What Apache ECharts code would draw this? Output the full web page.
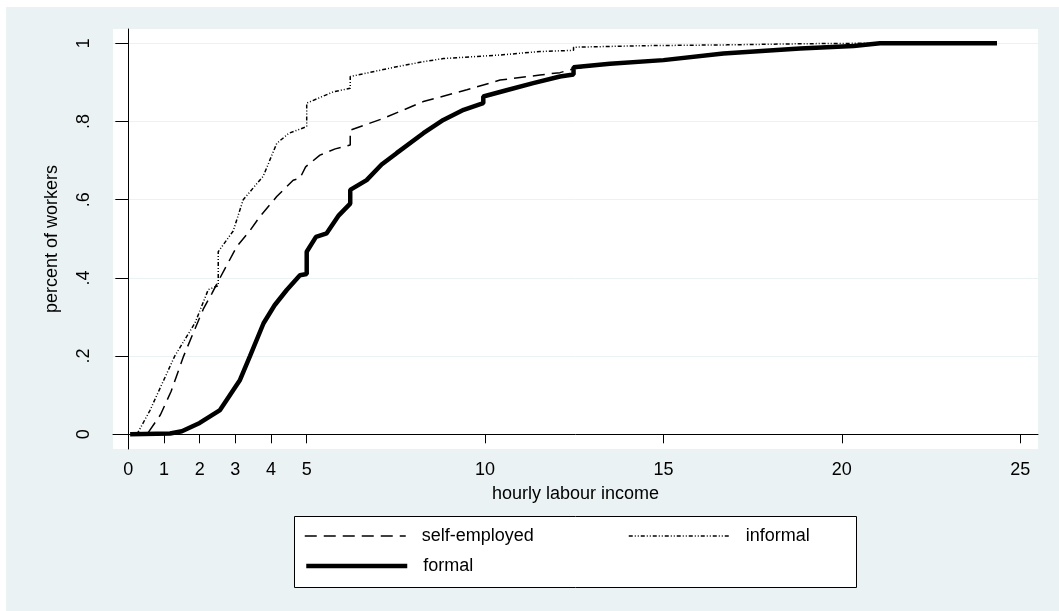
<!DOCTYPE html>
<html>
<head>
<meta charset="utf-8">
<script src="https://cdn.jsdelivr.net/npm/echarts@6/dist/echarts.min.js"></script>
<style>
  html, body { margin: 0; padding: 0; background: #fff; }
  #main { width: 1059px; height: 611px; }
</style>
</head>
<body>
<div id="main"></div>
<script>
var selfX = [0.56, 0.9, 1.2, 1.55, 1.87, 2.1, 2.34, 2.57, 3.04, 3.4, 3.69, 4.16, 4.62, 4.81, 4.97, 5.37, 5.8, 6.22, 6.22, 7.15, 8.27, 9.49, 10.42, 11.54, 12.1, 12.48, 13.5, 15.0, 16.68, 18.83, 20.33, 21.0, 21.5];
var selfY = [0.005, 0.05, 0.11, 0.2, 0.27, 0.32, 0.36, 0.40, 0.48, 0.52, 0.557, 0.608, 0.65, 0.655, 0.684, 0.714, 0.73, 0.74, 0.778, 0.808, 0.851, 0.881, 0.906, 0.919, 0.925, 0.935, 0.948, 0.958, 0.975, 0.988, 0.995, 1, 1];

var informalX = [0.24, 0.6, 1.0, 1.3, 1.87, 2.24, 2.52, 2.52, 2.94, 3.22, 3.5, 3.78, 4.16, 4.5, 5.0, 5.0, 5.75, 6.22, 6.22, 7.52, 8.27, 8.83, 10.42, 11.54, 12.48, 12.48, 14.5, 16.78, 19.0, 20.5, 21.0];
var informalY = [0, 0.06, 0.14, 0.2, 0.285, 0.37, 0.38, 0.467, 0.52, 0.6, 0.63, 0.66, 0.744, 0.77, 0.787, 0.847, 0.876, 0.885, 0.915, 0.94, 0.953, 0.961, 0.97, 0.979, 0.982, 0.99, 0.994, 0.996, 0.999, 1, 1];

var formalX = [0.05, 1.17, 1.5, 2.0, 2.57, 3.13, 3.41, 3.79, 4.1, 4.44, 4.81, 5.0, 5.0, 5.26, 5.56, 5.9, 6.22, 6.22, 6.68, 7.1, 7.52, 8.27, 8.83, 9.4, 9.95, 9.95, 10.6, 11.35, 12.1, 12.48, 12.48, 13.5, 15.0, 16.68, 18.83, 20.33, 21.07, 24.35];
var formalY = [0, 0.002, 0.008, 0.029, 0.062, 0.139, 0.2, 0.284, 0.33, 0.369, 0.407, 0.41, 0.467, 0.505, 0.514, 0.56, 0.59, 0.625, 0.65, 0.69, 0.719, 0.77, 0.804, 0.83, 0.847, 0.864, 0.88, 0.898, 0.915, 0.92, 0.939, 0.948, 0.957, 0.974, 0.987, 0.993, 1, 1];

var xTickValues = [0, 1, 2, 3, 4, 5, 10, 15, 20, 25];
var yTickValues = [0, 0.2, 0.4, 0.6, 0.8, 1];
var yTickLabels = ['0', '.2', '.4', '.6', '.8', '1'];

function pairs(xs, ys) {
    var out = [];
    for (var i = 0; i < xs.length; i++) out.push([xs[i], ys[i]]);
    return out;
}

var font = 'Liberation Sans, Arial, sans-serif';
var myChart = echarts.init(document.getElementById('main'));

var selfStyle = {color: '#000', width: 1.5, type: [12, 7]};
var infStyle = {color: '#000', width: 1.5, type: [4, 2, 1, 2, 1, 2]};
var formalStyle = {color: '#000', width: 4.5, type: 'solid'};

function oneLegend(name, left, top, ls) {
    return {
        data: [name],
        left: left,
        top: top,
        orient: 'horizontal',
        padding: 0,
        itemWidth: 101,
        itemHeight: 14,
        selectedMode: false,
        itemStyle: {opacity: 0, borderWidth: 0},
        lineStyle: ls,
        textStyle: {color: '#000', fontSize: 18, fontFamily: font, lineHeight: 20, padding: [0, 0, 0, 11]}
    };
}

option = {
    backgroundColor: '#fff',
    animation: false,
    graphic: [
        {type: 'rect', left: 6, top: 7, z: -10, shape: {width: 1053, height: 604}, style: {fill: '#EAF2F3'}},
        {type: 'rect', left: 294, top: 516, z: 1, shape: {width: 562, height: 71}, style: {fill: '#fff', stroke: '#000', lineWidth: 1}}
    ],
    legend: [
        oneLegend('self-employed', 304, 526, selfStyle),
        oneLegend('informal', 628, 526, infStyle),
        oneLegend('formal', 304, 556, formalStyle)
    ],
    grid: {
        left: 113,
        top: 29,
        width: 925,
        height: 420,
        show: true,
        backgroundColor: '#fff',
        borderWidth: 0
    },
    xAxis: {
        type: 'value',
        min: -0.43,
        max: 25.5,
        axisLine: {show: true, lineStyle: {color: '#000', width: 1}},
        axisTick: {show: true, length: 9, customValues: xTickValues, lineStyle: {color: '#000'}},
        axisLabel: {customValues: xTickValues, color: '#000', fontSize: 18, fontFamily: font, margin: 12},
        splitLine: {show: false},
        name: 'hourly labour income',
        nameLocation: 'middle',
        nameGap: 36,
        nameTextStyle: {color: '#000', fontSize: 18, fontFamily: font}
    },
    yAxis: {
        type: 'value',
        min: -0.0376,
        max: 1.0366,
        axisLine: {show: true, lineStyle: {color: '#000', width: 1}},
        axisTick: {show: true, length: 13, customValues: yTickValues, lineStyle: {color: '#000'}},
        axisLabel: {
            customValues: yTickValues,
            rotate: 90,
            color: '#000',
            fontSize: 18,
            fontFamily: font,
            margin: 20,
            formatter: function (v) {
                var i = yTickValues.indexOf(v);
                return i >= 0 ? yTickLabels[i] : '';
            }
        },
        splitLine: {show: true, lineStyle: {color: '#EAF2F3', width: 1}},
        name: 'percent of workers',
        nameLocation: 'middle',
        nameGap: 52,
        nameTextStyle: {color: '#000', fontSize: 18, fontFamily: font}
    },
    series: [
        {
            name: 'self-employed',
            type: 'line',
            data: pairs(selfX, selfY),
            symbol: 'none',
            itemStyle: {color: '#000'},
            lineStyle: selfStyle
        },
        {
            name: 'informal',
            type: 'line',
            data: pairs(informalX, informalY),
            symbol: 'none',
            itemStyle: {color: '#000'},
            lineStyle: infStyle
        },
        {
            name: 'formal',
            type: 'line',
            data: pairs(formalX, formalY),
            symbol: 'none',
            itemStyle: {color: '#000'},
            lineStyle: formalStyle
        }
    ]
};
myChart.setOption(option);
</script>
</body>
</html>
